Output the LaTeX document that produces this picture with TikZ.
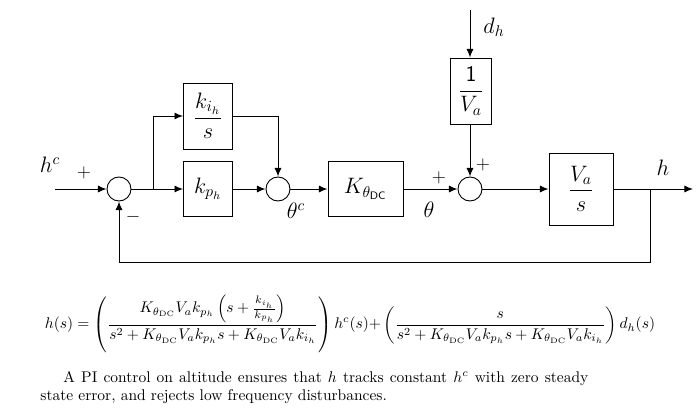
\documentclass[tikz,border=0pt]{standalone}
\usepackage{amsmath}
\usetikzlibrary{arrows.meta}
\tikzset{
  blockbox/.style={draw, rectangle, inner sep=0pt, font=\Large},
  sumnode/.style={draw, circle, minimum size=15.5pt, inner sep=0pt},
  sig/.style={-{Latex[length=5.5pt,width=4.5pt]}},
  lbl/.style={font=\Large},
  signlbl/.style={font=\large}
}
\begin{document}
\begin{tikzpicture}[x=0.645pt, y=-0.645pt, line width=0.6pt]
    \useasboundingbox (0,0) rectangle (700,416);
    % blocks and summing junctions
    \node[sumnode] (s1) at (119,189) {};
    \node[blockbox, minimum width=31.6pt, minimum height=42.6pt] (ki) at (208,116) {$\dfrac{k_{i_h}}{s}$};
    \node[blockbox, minimum width=31.6pt, minimum height=36pt] (kp) at (208,189) {$k_{p_h}$};
    \node[sumnode] (s2) at (278,189) {};
    \node[blockbox, minimum width=48.4pt, minimum height=35.5pt] (kdc) at (365.5,189) {$K_{\theta_{\mathsf{DC}}}$};
    \node[sumnode] (s3) at (470,189) {};
    \node[blockbox, minimum width=27pt, minimum height=42.6pt] (va1) at (471,91) {$\dfrac{\mathsf{1}}{V_a}$};
    \node[blockbox, minimum width=41.3pt, minimum height=46.4pt] (vas) at (581,189) {$\dfrac{V_a}{s}$};
    \coordinate (hcin) at (55,189);
    \coordinate (br1) at (153,189);
    \coordinate (dh) at (470,10);
    \coordinate (br2) at (650,189);
    \coordinate (out) at (693,189);
    \coordinate (fb) at (650,262);

    \draw[sig] (hcin) -- (s1);
    \draw (s1) -- (br1);
    \draw[sig] (br1) |- (ki);
    \draw[sig] (br1) -- (kp);
    \draw[sig] (kp) -- (s2);
    \draw[sig] (ki) -| (s2);
    \draw[sig] (s2) -- (kdc);
    \draw[sig] (kdc) -- (s3);
    \draw[sig] (dh) -- (dh |- va1.north);
    \draw[sig] (va1.south -| s3) -- (s3);
    \draw[sig] (s3) -- (vas);
    \draw[sig] (vas) -- (out);
    \draw[sig] (br2) -- (fb) -| (s1);

    % signal labels
    \node[lbl] (hc) at (50,165) {$h^c$};
    \node[signlbl] (p1) at (84,173) {$+$};
    \node[signlbl] (m1) at (133,217) {$-$};
    \node[lbl] (thc) at (296,211) {$\theta^c$};
    \node[signlbl] (p2) at (439,178) {$+$};
    \node[lbl] (th) at (429,210) {$\theta$};
    \node[signlbl] (p3) at (483,165) {$+$};
    \node[lbl] (dhl) at (494,27) {$d_h$};
    \node[lbl] (hl) at (663,168) {$h$};

    % closed loop relation
    \node (eq) at (350,324) {$\displaystyle h(s)=\left(\frac{K_{\theta_{\mathrm{DC}}}V_a k_{p_h}\left(s+\frac{k_{i_h}}{k_{p_h}}\right)}{s^2+K_{\theta_{\mathrm{DC}}}V_a k_{p_h}s+K_{\theta_{\mathrm{DC}}}V_a k_{i_h}}\right)h^c(s){+}\left(\frac{s}{s^2+K_{\theta_{\mathrm{DC}}}V_a k_{p_h}s+K_{\theta_{\mathrm{DC}}}V_a k_{i_h}}\right)d_h(s)$};

    \node[anchor=base west, inner sep=0pt] (line1) at (63,382) {\makebox[338.6pt][s]{A PI control on altitude ensures that $h$ tracks constant $h^c$ with zero steady}};
    \node[anchor=base west, inner sep=0pt] (line2) at (40,400) {state error, and rejects low frequency disturbances.};
\end{tikzpicture}
\end{document}
